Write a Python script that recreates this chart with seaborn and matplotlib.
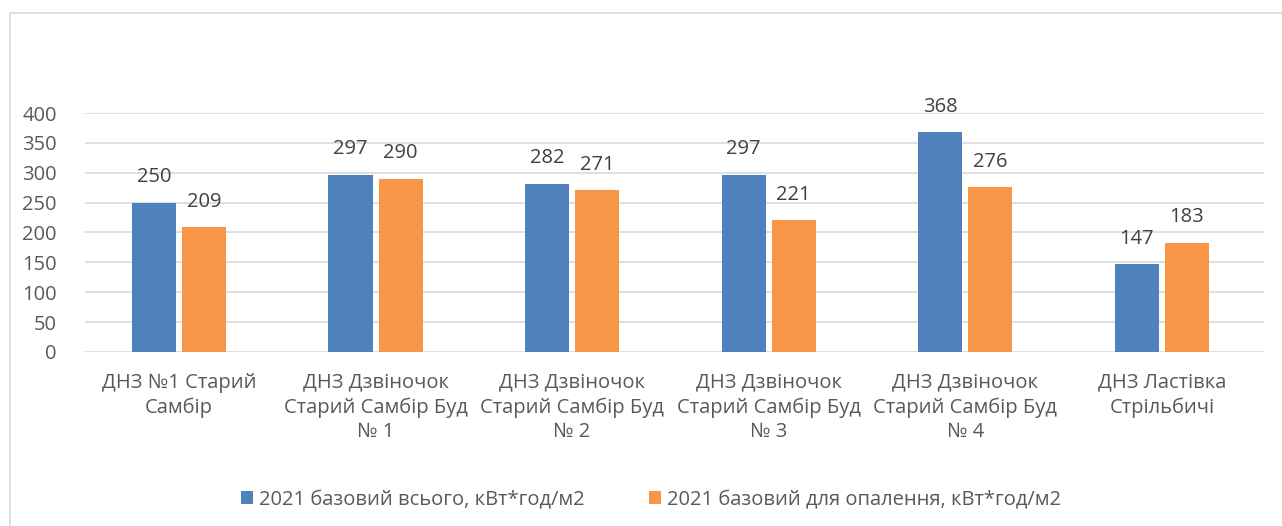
import pandas as pd
import matplotlib.pyplot as plt
import seaborn as sns
from matplotlib.patches import Rectangle

# === дані ===
categories = [
    "ДНЗ №1 Старий\nСамбір",
    "ДНЗ Дзвіночок\nСтарий Самбір Буд\n№ 1",
    "ДНЗ Дзвіночок\nСтарий Самбір Буд\n№ 2",
    "ДНЗ Дзвіночок\nСтарий Самбір Буд\n№ 3",
    "ДНЗ Дзвіночок\nСтарий Самбір Буд\n№ 4",
    "ДНЗ Ластівка\nСтрільбичі",
]
series_names = ["2021 базовий всього, кВт*год/м2", "2021 базовий для опалення, кВт*год/м2"]
total_vals = [250, 297, 282, 297, 368, 147]
heating_vals = [209, 290, 271, 221, 276, 183]
colors = ["#4f81bd", "#f79646"]

df = pd.DataFrame({
    "cat": categories * 2,
    "series": [series_names[0]] * 6 + [series_names[1]] * 6,
    "val": total_vals + heating_vals,
})

sns.set_style("white")
plt.rcParams['font.family'] = ['Open Sans', 'DejaVu Sans']
txt = "#595959"
fs = 14.5

fig = plt.figure(figsize=(12.82, 5.26), dpi=100)
ax = fig.add_axes([0.066, 0.331, 0.92, 0.454])

sns.barplot(data=df, x="cat", y="val", hue="series", palette=colors,
            saturation=1, width=0.51, gap=0.12, linewidth=0, ax=ax, legend=True)

for cont in ax.containers:
    ax.bar_label(cont, fmt="%d", padding=11, fontsize=fs, color="#404040")

ax.set_ylim(0, 400)
ax.set_yticks(range(0, 401, 50))
ax.yaxis.grid(True, color="#d9d9d9", linewidth=1.2)
ax.set_axisbelow(True)
for s in ax.spines.values():
    s.set_visible(False)
ax.tick_params(axis="both", length=0, labelsize=fs, labelcolor=txt)
ax.tick_params(axis="y", pad=20)
ax.tick_params(axis="x", pad=15)
ax.set_xlabel("")
ax.set_ylabel("")
ax.set_xlim(-0.48, 5.52)
for lab in ax.get_xticklabels():
    lab.set_linespacing(1.3)

ax.legend(loc="center", bbox_to_anchor=(0.5 - 0.02, -0.62), ncol=2, frameon=False,
          fontsize=fs, labelcolor=txt, handlelength=0.6, handleheight=0.6,
          handletextpad=0.3, columnspacing=3.2)

# рамка діаграми
fig.patches.append(Rectangle((10 / 1282, -0.05), 1.1, 1 - 13 / 526 + 0.05,
                             transform=fig.transFigure, fill=False,
                             edgecolor="#d9d9d9", linewidth=1.2))

fig.savefig("out.png", dpi=100)
